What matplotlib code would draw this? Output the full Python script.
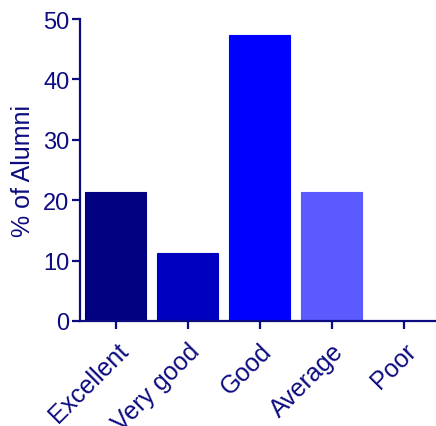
import matplotlib.pyplot as plt

plt.rcParams['font.family'] = ['Liberation Sans', 'DejaVu Sans']

# Datos
categories = ['Excellent', 'Very good', 'Good', 'Average', 'Poor']
percent = [21.3, 11.3, 47.3, 21.3, 0]
colors = ['#000080', '#0000C0', '#0000FF', '#5A5AFF', '#FFFFFF']
y_ticks = [0, 10, 20, 30, 40, 50]

navy = '#0C0C80'

fig = plt.figure(figsize=(4.36, 4.27), dpi=100)
ax = fig.add_axes([0.183, 0.246, 0.817, 0.707])

x = range(len(categories))
ax.bar(x, percent, width=0.85, color=colors, edgecolor=colors, linewidth=0.8)

ax.set_xlim(-0.5, 4.45)
ax.set_ylim(0, 50)
ax.set_yticks(y_ticks)
ax.set_xticks(list(x))
ax.set_xticklabels(categories, rotation=45, ha='right', va='top',
                   rotation_mode='anchor', fontsize=18)
ax.set_ylabel('% of Alumni', fontsize=18, color=navy, labelpad=6)

for side in ['top', 'right']:
    ax.spines[side].set_visible(False)
for side in ['left', 'bottom']:
    ax.spines[side].set_color(navy)
    ax.spines[side].set_linewidth(1.6)
    ax.spines[side].set_clip_on(False)

ax.tick_params(axis='both', colors=navy, width=1.6, length=5.5)
ax.tick_params(axis='y', labelsize=17, pad=2)
ax.tick_params(axis='x', pad=7)

plt.savefig('out.png', dpi=100)
